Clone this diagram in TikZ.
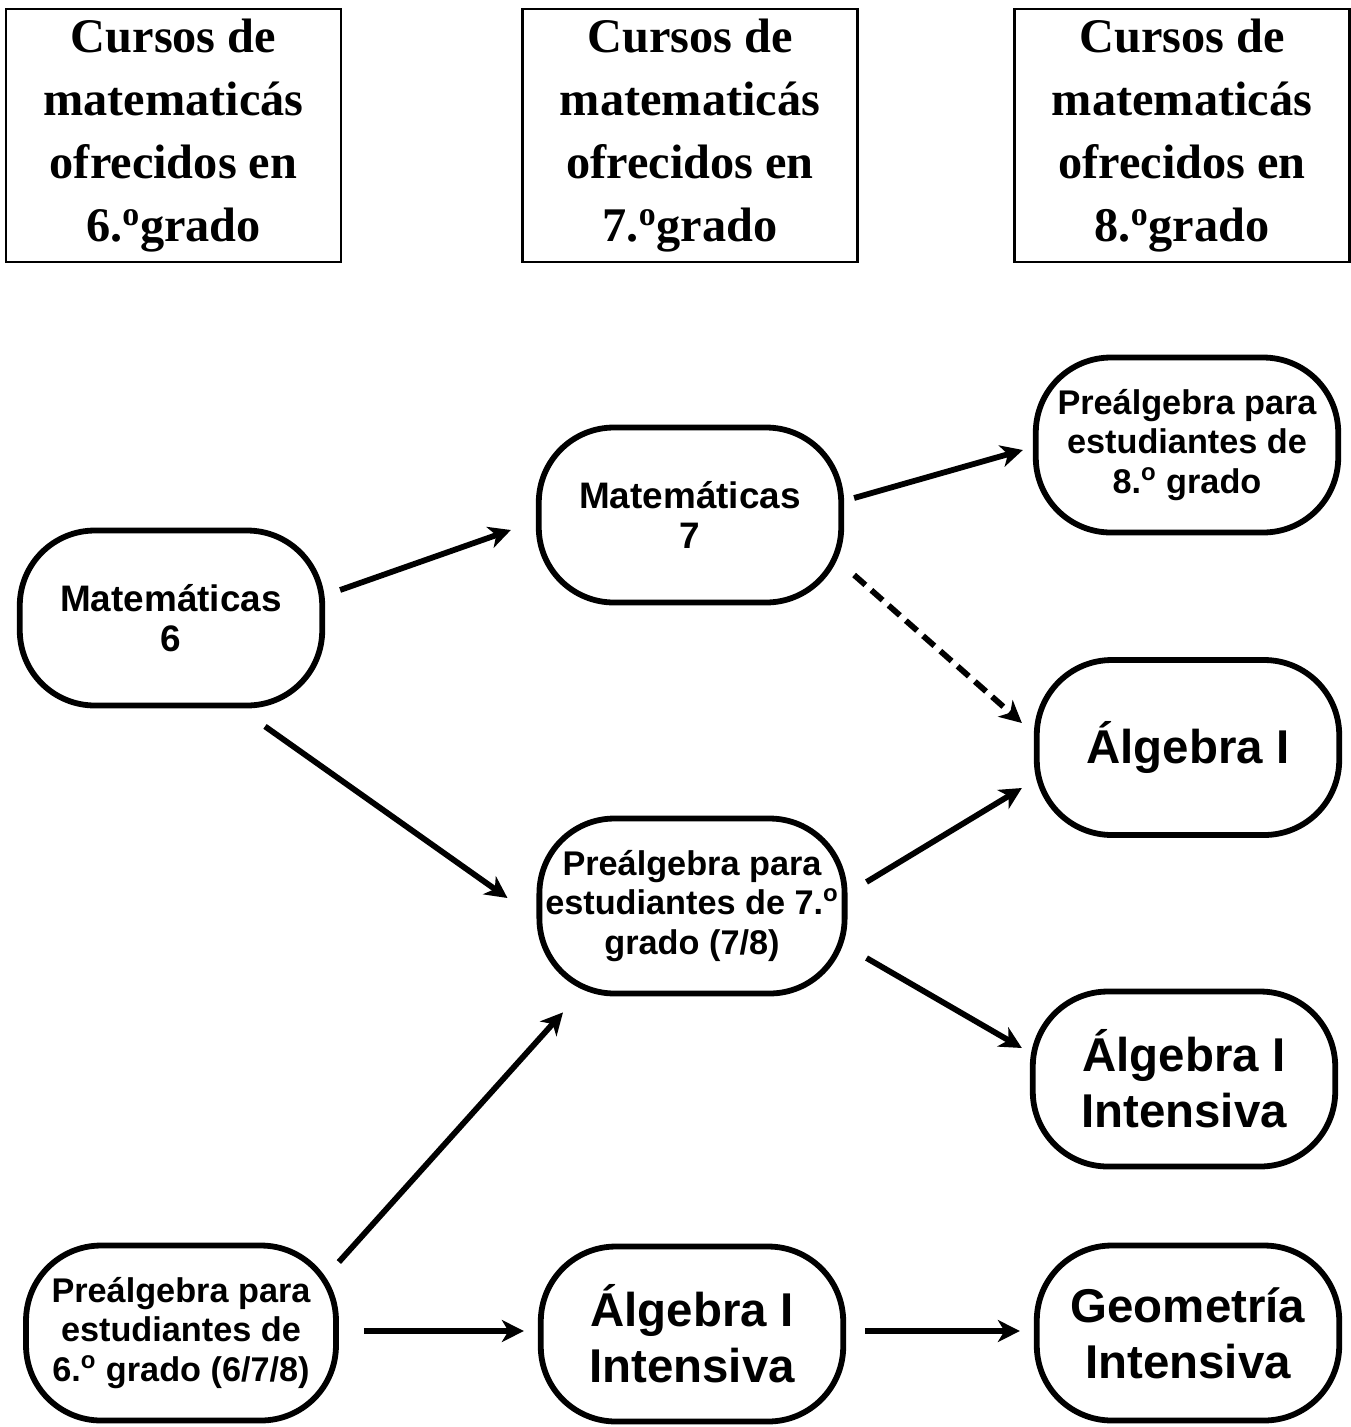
\documentclass[tikz,border=0pt]{standalone}
\usepackage{fontspec}
\setmainfont{Liberation Serif}
\setsansfont{Liberation Sans}
\usetikzlibrary{arrows.meta}

\tikzset{
  gradehead/.style={draw, line width=1.2pt, minimum width=6.7cm, minimum height=5.05cm, align=center,
    font=\bfseries\fontsize{27.5}{35.7}\selectfont},
  course/.style={draw, line width=3.3pt, rounded corners=1.5cm, minimum width=6.05cm, minimum height=3.5cm,
    align=center, font=\sffamily\bfseries\fontsize{19.5}{22.7}\selectfont},
  bigcourse/.style={course, font=\sffamily\bfseries\fontsize{27}{32}\selectfont},
  flow/.style={-{Stealth[length=4.4mm,width=4.4mm,inset=1.3mm]}, line width=3.3pt},
}

\begin{document}
\begin{tikzpicture}[x=0.02cm,y=-0.02cm]
\useasboundingbox (0,0) rectangle (1351,1427);

% grade headers
\node[gradehead] (h6) at (173.5,135.5) {Cursos de\\matematicás\\ofrecidos en\\6.\textsuperscript{o}grado};
\node[gradehead] (h7) at (690,135.5) {Cursos de\\matematicás\\ofrecidos en\\7.\textsuperscript{o}grado};
\node[gradehead] (h8) at (1182,135.5) {Cursos de\\matematicás\\ofrecidos en\\8.\textsuperscript{o}grado};

% courses
\node[course, font=\sffamily\bfseries\fontsize{21}{22.7}\selectfont] (m6) at (171,618) {Matemáticas\\6};
\node[course, font=\sffamily\bfseries\fontsize{21}{22.7}\selectfont] (m7) at (690,515) {Matemáticas\\7};
\node[course] (p8) at (1187,445) {Preálgebra para\\estudiantes de\\8.\textsuperscript{o} grado};
\node[bigcourse] (a1) at (1188,747.5) {Álgebra I};
\node[course] (p7) at (692,906) {Preálgebra para\\estudiantes de 7.\textsuperscript{o}\\grado (7/8)};
\node[bigcourse] (ai8) at (1184,1079) {Álgebra I\\Intensiva};
\node[course, minimum width=6.2cm] (p6) at (181,1333) {Preálgebra para\\estudiantes de\\6.\textsuperscript{o} grado (6/7/8)};
\node[bigcourse] (ai7) at (692,1334) {Álgebra I\\Intensiva};
\node[bigcourse] (g8) at (1188,1333) {Geometría\\Intensiva};

% paths
\draw[flow] ([shift={(15,-28)}]m6.east) -- ([shift={(-25,15)}]m7.west);
\draw[flow] ([shift={(94,18)}]m6.south) -- ([shift={(-29,-8)}]p7.west);
\draw[flow] ([shift={(10,-17)}]m7.east) -- ([shift={(-10,5)}]p8.west);
\draw[flow, dash pattern=on 0.3cm off 0.16cm] ([shift={(10,60)}]m7.east) -- ([shift={(-12,-24.5)}]a1.west);
\draw[flow] ([shift={(19,-24)}]p7.east) -- ([shift={(-12,40.5)}]a1.west);
\draw[flow] ([shift={(19,52)}]p7.east) -- ([shift={(-8,-31)}]ai8.west);
\draw[flow] ([shift={(0,-71)}]p6.east) -- ([shift={(-129,16)}]p7.south);
\draw[flow] ([shift={(25,-2)}]p6.east) -- ([shift={(-14,-3)}]ai7.west);
\draw[flow] ([shift={(19,-3)}]ai7.east) -- ([shift={(-14,-2)}]g8.west);
\end{tikzpicture}
\end{document}
